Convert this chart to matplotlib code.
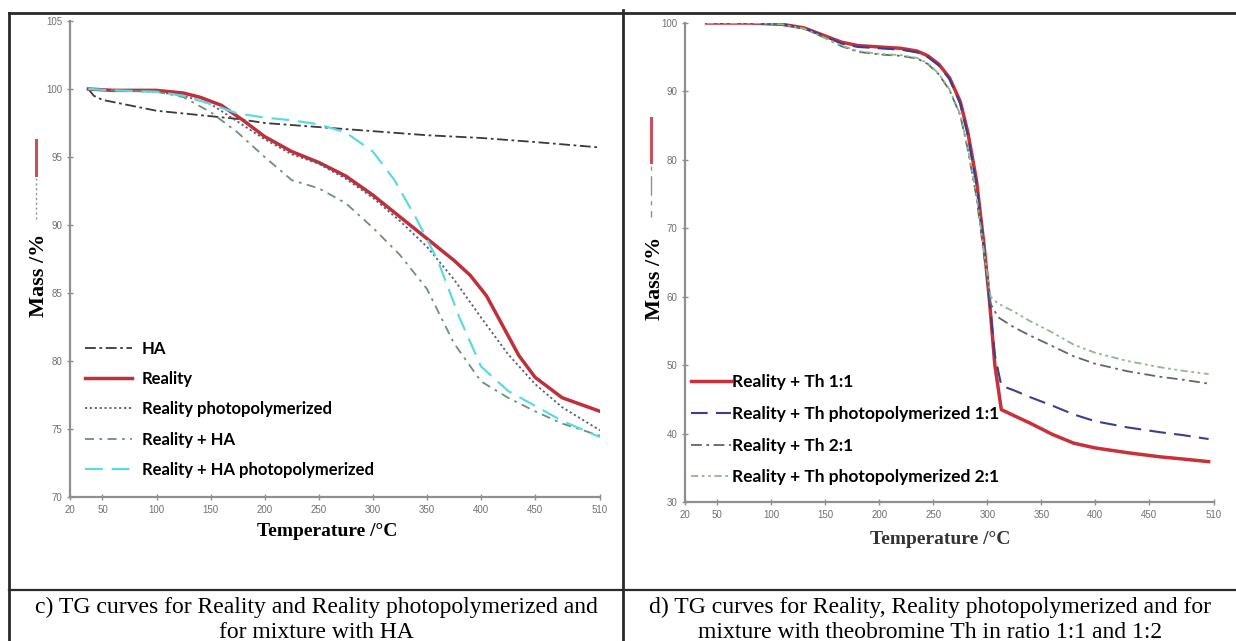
##                 TG curves - Reality / HA / theobromine             ##
import numpy as np
import matplotlib.pyplot as plt
from matplotlib.lines import Line2D

##                              Dados                               ##
# painel c)
ha_T = [37, 42, 50, 75, 100, 125, 150, 175, 200, 250, 300, 350, 400, 450, 510]
ha_m = [100.0, 99.5, 99.2, 98.8, 98.4, 98.2, 98.0, 97.8, 97.5, 97.2, 96.9, 96.6, 96.4, 96.1, 95.7]

real_T = [37, 60, 100, 125, 140, 160, 180, 200, 225, 250, 275, 300, 325, 350, 375, 390, 405,
          420, 435, 450, 475, 510]
real_m = [100.0, 99.9, 99.9, 99.7, 99.4, 98.8, 97.7, 96.5, 95.4, 94.6, 93.6, 92.2, 90.6, 89.0,
          87.4, 86.3, 84.8, 82.6, 80.4, 78.8, 77.3, 76.3]

realp_T = [37, 60, 100, 125, 150, 175, 200, 225, 250, 275, 300, 325, 350, 375, 400, 425, 450, 475, 510]
realp_m = [100.0, 99.9, 99.8, 99.5, 98.9, 97.6, 96.3, 95.2, 94.5, 93.4, 92.0, 90.3, 88.4, 86.0,
           83.2, 80.5, 78.3, 76.6, 74.9]

rha_T = [37, 60, 100, 125, 150, 175, 200, 225, 250, 275, 300, 325, 350, 375, 400, 425, 450, 475, 510]
rha_m = [100.0, 99.9, 99.8, 99.4, 98.3, 96.8, 95.0, 93.3, 92.7, 91.6, 89.8, 87.8, 85.3, 81.3,
         78.5, 77.3, 76.3, 75.4, 74.5]

rhap_T = [37, 60, 100, 125, 150, 175, 200, 225, 250, 275, 300, 320, 340, 360, 380, 400, 425, 450, 475, 510]
rhap_m = [100.0, 99.9, 99.8, 99.5, 98.9, 98.2, 97.9, 97.7, 97.4, 96.8, 95.4, 93.3, 90.5, 87.4,
          83.2, 79.6, 77.8, 76.7, 75.6, 74.4]

# painel d)
th11_T = [40, 80, 110, 130, 150, 165, 180, 200, 220, 235, 245, 255, 265, 275, 282, 290, 297, 302,
          307, 313, 325, 340, 360, 380, 400, 430, 460, 480, 505]
th11_m = [100.0, 100.0, 99.8, 99.3, 98.1, 97.2, 96.7, 96.5, 96.3, 95.9, 95.2, 94.0, 92.0, 88.5,
          84.0, 77.0, 67.5, 59.5, 50.0, 43.5, 42.6, 41.5, 39.9, 38.6, 37.9, 37.2, 36.6, 36.3, 35.9]

th11p_T = [40, 80, 110, 130, 150, 165, 180, 200, 220, 235, 245, 255, 265, 275, 282, 290, 297, 302,
           307, 313, 325, 340, 360, 380, 400, 430, 460, 480, 505]
th11p_m = [100.0, 100.0, 99.8, 99.3, 98.0, 97.0, 96.5, 96.3, 96.1, 95.7, 95.0, 93.8, 91.8, 88.2,
           83.6, 76.5, 67.0, 59.5, 51.5, 47.0, 46.3, 45.3, 44.1, 42.8, 41.8, 40.9, 40.2, 39.8, 39.2]

th21_T = [40, 80, 110, 130, 150, 165, 180, 200, 220, 235, 245, 255, 265, 275, 282, 290, 297, 303,
          310, 325, 340, 360, 380, 400, 430, 460, 480, 505]
th21_m = [100.0, 100.0, 99.8, 99.2, 97.8, 96.6, 95.8, 95.4, 95.2, 94.8, 94.0, 92.5, 90.2, 86.5,
          81.5, 74.5, 66.0, 59.0, 57.0, 55.5, 54.3, 52.8, 51.3, 50.2, 49.1, 48.3, 47.9, 47.3]

th21p_T = [40, 80, 110, 130, 150, 165, 180, 200, 220, 235, 245, 255, 265, 275, 282, 290, 297, 303,
           310, 325, 340, 360, 380, 400, 430, 460, 480, 505]
th21p_m = [100.0, 100.0, 99.8, 99.2, 97.8, 96.7, 95.9, 95.5, 95.3, 94.9, 94.1, 92.6, 90.3, 86.6,
           81.7, 74.8, 66.5, 60.0, 59.0, 57.8, 56.4, 54.8, 53.0, 51.8, 50.6, 49.7, 49.2, 48.7]

x_ticks = [20, 50, 100, 150, 200, 250, 300, 350, 400, 450, 510]
yc_ticks = [70, 75, 80, 85, 90, 95, 100, 105]
yd_ticks = [30, 40, 50, 60, 70, 80, 90, 100]

caption_c = 'c) TG curves for Reality and Reality photopolymerized and\nfor mixture with HA'
caption_d = ('d) TG curves for Reality, Reality photopolymerized and for\n'
             'mixture with theobromine Th in ratio 1:1 and 1:2')

##                              Figura                              ##
W, H = 1236, 641
fig = plt.figure(figsize=(W / 100, H / 100), dpi=100, facecolor='white')

def fx(px):
    return px / W

def fy(py):
    return 1 - py / H

tick_font = ['Liberation Sans Narrow', 'Liberation Sans', 'DejaVu Sans']
serif = ['Liberation Serif', 'DejaVu Serif']
leg_font = ['Lato', 'DejaVu Sans']


def style_axes(ax, ylim, yticks):
    ax.set_xlim(20, 510)
    ax.set_ylim(*ylim)
    ax.set_xticks(x_ticks)
    ax.set_yticks(yticks)
    for s in ['top', 'right']:
        ax.spines[s].set_visible(False)
    for s in ['left', 'bottom']:
        ax.spines[s].set_color('#8f8f8f')
        ax.spines[s].set_linewidth(1.6)
    ax.tick_params(axis='both', colors='#8f8f8f', labelcolor='#707070', labelsize=7,
                   length=4, width=1, direction='inout')
    for lab in ax.get_xticklabels() + ax.get_yticklabels():
        lab.set_family(tick_font)
    ax.set_facecolor('none')


##                          Painel c)                               ##
axc = fig.add_axes([fx(70), fy(497), fx(600 - 70), (497 - 21) / H])
axc.plot(ha_T, ha_m, color='#3a3a3a', lw=1.3, ls=(0, (6, 2, 1.5, 2)), label='HA')
axc.plot(real_T, real_m, color='#c0303a', lw=2.5, label='Reality')
axc.plot(realp_T, realp_m, color='#5a5a78', lw=1.3, ls=(0, (1.2, 1.5)),
         label='Reality photopolymerized')
axc.plot(rha_T, rha_m, color='#6f8f77', lw=1.3, ls=(0, (5, 3, 1.5, 3)), label='Reality + HA')
axc.plot(rhap_T, rhap_m, color='#5fd8e6', lw=1.6, ls=(0, (8, 4)),
         label='Reality + HA photopolymerized')
style_axes(axc, (70, 105), yc_ticks)
axc.legend(loc='lower left', bbox_to_anchor=(0.028, 0.04), frameon=False,
           prop={'family': leg_font, 'weight': 'bold', 'size': 12},
           handlelength=2.85, handletextpad=0.55, labelspacing=0.86,
           borderpad=0, borderaxespad=0)

##                          Painel d)                               ##
axd = fig.add_axes([fx(685), fy(502), fx(1214 - 685), (502 - 23) / H])
axd.plot(th11_T, th11_m, color='#c8303a', lw=2.5, label='Reality + Th 1:1')
axd.plot(th11p_T, th11p_m, color='#3d3d8f', lw=1.5, ls=(0, (8, 4)),
         label='Reality + Th photopolymerized 1:1')
axd.plot(th21_T, th21_m, color='#5c6a60', lw=1.3, ls=(0, (6, 2.5, 1.5, 2.5)),
         label='Reality + Th 2:1')
axd.plot(th21p_T, th21p_m, color='#8db88f', lw=1.3, ls=(0, (4, 2, 1.5, 2, 1.5, 2)),
         label='Reality + Th photopolymerized 2:1')
style_axes(axd, (30, 100), yd_ticks)
axd.legend(loc='lower left', bbox_to_anchor=(0.011, 0.035), frameon=False,
           prop={'family': leg_font, 'weight': 'bold', 'size': 12.5},
           handlelength=2.3, handletextpad=0.1, labelspacing=0.9,
           borderpad=0, borderaxespad=0)

##                        Títulos dos eixos                         ##
for x, y in [(39, 275), (655, 278)]:
    fig.text(fx(x), fy(y), 'Mass /%', rotation=90, ha='center', va='center',
             family=serif, weight='bold', size=16)
fig.text(fx(327), fy(532), 'Temperature /°C', ha='center', va='center',
         family=serif, weight='bold', size=14)
fig.text(fx(940), fy(540), 'Temperature /°C', ha='center', va='center',
         family=serif, weight='bold', size=14, color='#333333')

# restos de legenda colados ao lado do eixo y
fig.add_artist(Line2D([fx(36), fx(36)], [fy(140), fy(175)], color='#c8505a', lw=2.2))
fig.add_artist(Line2D([fx(36), fx(36)], [fy(178), fy(220)], color='#909090', lw=1,
                      ls=(0, (1.5, 2))))
fig.add_artist(Line2D([fx(651), fx(651)], [fy(118), fy(162)], color='#c8505a', lw=2.2))
fig.add_artist(Line2D([fx(651), fx(651)], [fy(166), fy(217)], color='#909090', lw=1,
                      ls=(0, (3, 4, 14, 4))))

##                       Moldura da tabela                          ##
frame = dict(color='#2a2a2a', lw=2)
fig.add_artist(Line2D([fx(9), 1], [fy(13), fy(13)], **frame))
fig.add_artist(Line2D([fx(9), fx(9)], [0, fy(13)], **frame))
fig.add_artist(Line2D([fx(623), fx(623)], [0, fy(10)], **frame))
fig.add_artist(Line2D([fx(9), 1], [fy(590), fy(590)], color='#2a2a2a', lw=1.6))

##                            Legendas                              ##
fig.text(fx(316), fy(620), caption_c, ha='center', va='center', family=serif,
         size=17, linespacing=1.2)
fig.text(fx(930), fy(620), caption_d, ha='center', va='center', family=serif,
         size=17, linespacing=1.2)

plt.savefig('out.png', dpi=100, facecolor='white')
